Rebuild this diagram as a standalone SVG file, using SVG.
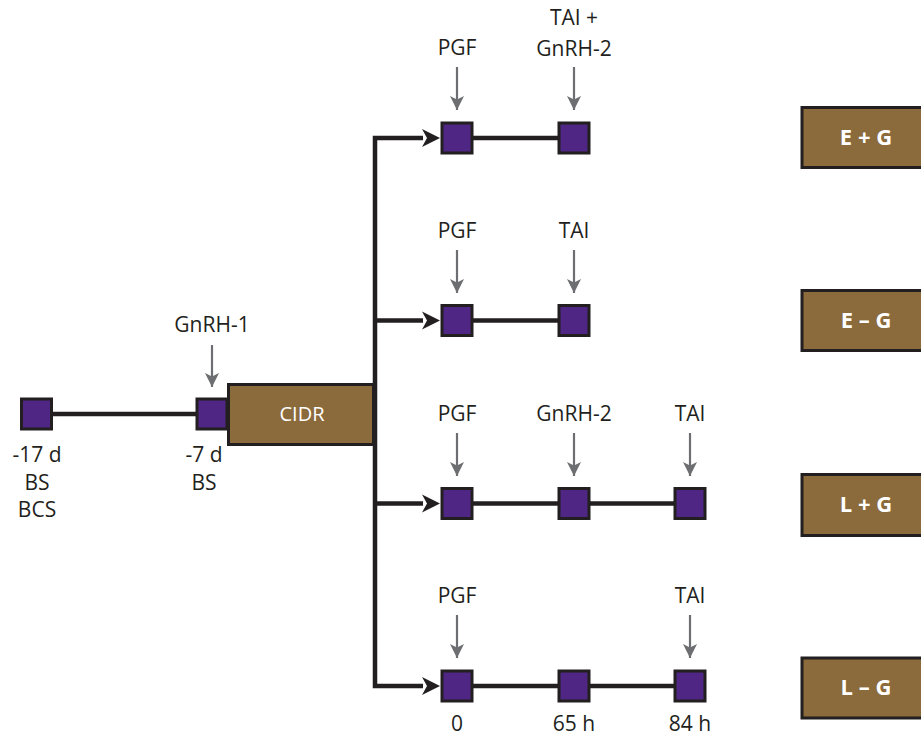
<svg xmlns="http://www.w3.org/2000/svg" width="921" height="736" viewBox="0 0 921 736">
<style>
.sq{fill:#4f2683;stroke:#231f20;stroke-width:3}
.box{fill:#8b6a3b;stroke:#231f20;stroke-width:3}
.ln{stroke:#231f20;stroke-width:4.5;fill:none}
.ga{stroke:#6d6e71;stroke-width:2.2;fill:none;marker-end:url(#gh)}
.t{font-family:"Open Sans","Liberation Sans",sans-serif;font-size:21px;fill:#231f20;text-anchor:middle}
.w{font-family:"Open Sans","Liberation Sans",sans-serif;font-size:20px;fill:#ffffff;text-anchor:middle}
.b{font-family:"Open Sans","Liberation Sans",sans-serif;font-size:22px;font-weight:bold;fill:#ffffff;text-anchor:middle}
</style>
<defs>
<marker id="gh" markerUnits="userSpaceOnUse" markerWidth="14" markerHeight="14" refX="12" refY="6" orient="auto" viewBox="0 0 12 12">
<path d="M0,0 L12,6 L0,12 L3,6 Z" fill="#6d6e71"/>
</marker>
</defs>
<g id="connectors">
<line class="ln" x1="36" y1="414" x2="212" y2="414"/>
<path class="ln" d="M423,138 H375 V686 H423" stroke-linejoin="miter"/>
<line class="ln" x1="375" y1="320.5" x2="423" y2="320.5"/>
<line class="ln" x1="375" y1="503.5" x2="423" y2="503.5"/>
<path d="M422,129 L440,138 L422,147 L427,138 Z" fill="#231f20"/>
<path d="M422,311.5 L440,320.5 L422,329.5 L427,320.5 Z" fill="#231f20"/>
<path d="M422,494.5 L440,503.5 L422,512.5 L427,503.5 Z" fill="#231f20"/>
<path d="M422,677 L440,686 L422,695 L427,686 Z" fill="#231f20"/>
<line class="ln" x1="457" y1="138" x2="574" y2="138"/>
<line class="ln" x1="457" y1="320.5" x2="574" y2="320.5"/>
<line class="ln" x1="457" y1="503.5" x2="690" y2="503.5"/>
<line class="ln" x1="457" y1="686" x2="690" y2="686"/>
<line class="ga" x1="212" y1="345" x2="212" y2="387"/>
<line class="ga" x1="457" y1="67" x2="457" y2="110"/>
<line class="ga" x1="574" y1="67" x2="574" y2="110"/>
<line class="ga" x1="457" y1="250" x2="457" y2="293"/>
<line class="ga" x1="574" y1="250" x2="574" y2="293"/>
<line class="ga" x1="457" y1="433" x2="457" y2="476"/>
<line class="ga" x1="574" y1="433" x2="574" y2="476"/>
<line class="ga" x1="690" y1="433" x2="690" y2="476"/>
<line class="ga" x1="457" y1="615" x2="457" y2="658"/>
<line class="ga" x1="690" y1="615" x2="690" y2="658"/>
</g>
<g id="start">
<rect class="sq" x="21.5" y="399" width="30" height="30"/>
<text class="t" x="37" y="462">-17 d</text>
<text class="t" x="37" y="490">BS</text>
<text class="t" x="37" y="517">BCS</text>
</g>
<g id="gnrh1">
<text class="t" x="212" y="332">GnRH-1</text>
<rect class="sq" x="197" y="399" width="30" height="30"/>
<text class="t" x="204" y="462">-7 d</text>
<text class="t" x="204" y="490">BS</text>
</g>
<g id="cidr">
<rect class="box" x="228.5" y="384.5" width="145" height="60"/>
<text class="w" x="302" y="421">CIDR</text>
</g>
<g id="row1">
<text class="t" x="457" y="55">PGF</text>
<text class="t" x="574" y="25">TAI +</text>
<text class="t" x="574" y="56">GnRH-2</text>
<rect class="sq" x="442" y="123" width="30" height="30"/>
<rect class="sq" x="559" y="123" width="30" height="30"/>
</g>
<g id="row2">
<text class="t" x="457" y="238">PGF</text>
<text class="t" x="574" y="238">TAI</text>
<rect class="sq" x="442" y="305.5" width="30" height="30"/>
<rect class="sq" x="559" y="305.5" width="30" height="30"/>
</g>
<g id="row3">
<text class="t" x="457" y="421">PGF</text>
<text class="t" x="574" y="421">GnRH-2</text>
<text class="t" x="690" y="421">TAI</text>
<rect class="sq" x="442" y="488.5" width="30" height="30"/>
<rect class="sq" x="559" y="488.5" width="30" height="30"/>
<rect class="sq" x="675" y="488.5" width="30" height="30"/>
</g>
<g id="row4">
<text class="t" x="457" y="603">PGF</text>
<text class="t" x="690" y="603">TAI</text>
<rect class="sq" x="442" y="671" width="30" height="30"/>
<rect class="sq" x="559" y="671" width="30" height="30"/>
<rect class="sq" x="675" y="671" width="30" height="30"/>
<text class="t" x="457" y="731">0</text>
<text class="t" x="574" y="731">65 h</text>
<text class="t" x="690" y="731">84 h</text>
</g>
<g id="eg_plus">
<rect class="box" x="802" y="107.5" width="130" height="60"/>
<text class="b" x="866" y="145">E + G</text>
</g>
<g id="eg_minus">
<rect class="box" x="802" y="290.5" width="130" height="60"/>
<text class="b" x="866" y="328">E – G</text>
</g>
<g id="lg_plus">
<rect class="box" x="802" y="474.5" width="130" height="61"/>
<text class="b" x="866" y="512">L + G</text>
</g>
<g id="lg_minus">
<rect class="box" x="802" y="658" width="130" height="60"/>
<text class="b" x="866" y="695">L – G</text>
</g>
</svg>
